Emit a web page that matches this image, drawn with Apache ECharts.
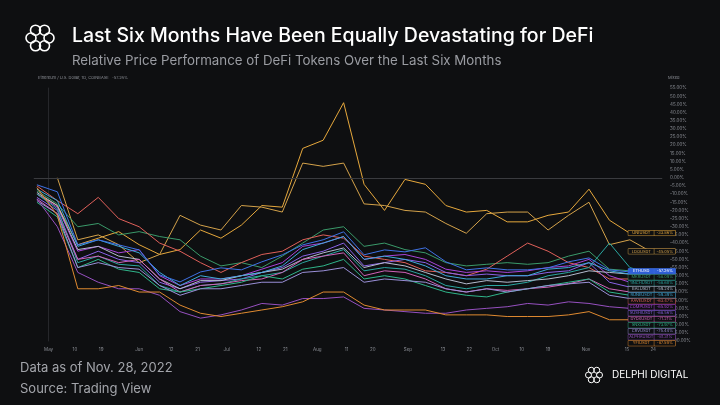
<!DOCTYPE html>
<html><head><meta charset="utf-8">
<script src="https://cdn.jsdelivr.net/npm/echarts@6/dist/echarts.min.js"></script>
<style>html,body{margin:0;padding:0;background:#0e0f11;}#c{width:720px;height:405px;}</style>
</head><body><div id="c"></div>
<script>
const days = [-4,3,10,17,24,31,38,45,52,59,66,73,80,87,94,101,108,115,122,129,136,143,150,157,164,171,178,185,192,199,206];
const tickDays = [0,9,18,31,42,51,61,72,81,92,102,111,123,135,144,153,162,171,184,198,207];
const tickLabels = ['May','10','19','Jun','12','21','Jul','12','21','Aug','11','20','Sep','13','22','Oct','10','19','Nov','15','24'];
const names = ['UNIUSDT','LDOUSDT','ETHUSD','MKRUSDT','AAVEUSDT','COMPUSDT','SUSHIUSDT','1INCHUSDT','BALUSDT','RUNEUSDT','DYDXUSDT','SNXUSDT','CRVUSDT','ALPHAUSDT','YFIUSDT'];
const colors = ['#e6a83c','#d4a24a','#3f72e6','#3a9a6a','#e0605a','#a844d8','#8a62e6','#2aa6a0','#b4bccf','#3fa9d9','#d063b8','#2fb58a','#9a8fd8','#9650c0','#e08a30'];
const uni  = [-10,-17,-41,-37,-33,-41,-47,-44,-32,-37,-29,-17,-18,18,23,46,-4,-20,-1,-4,-17,-21,-20,-27,-27,-23,-21,-7,-26,-34,-33.86];
const ldo  = [null,0,-38,-35,-41,-52,-47,-23,-29,-32,-17,-18,-21,9,7,9,-16,-17,-20,-21,-28,-34,-22,-21,-21,-32,-23,-15,-41,-38,-45.05];
const eth  = [-4.3,-8.6,-41.1,-38,-41.1,-44.2,-59.5,-63.8,-57.7,-55.2,-56.4,-51.5,-47.2,-41.1,-38,-33.1,-47.2,-44.2,-45.4,-42.9,-51.5,-56.4,-55.2,-56.4,-56.4,-55.2,-51.5,-49.1,-56.4,-57.7,-57.26];
const mkr  = [-8,-16,-30,-28,-35,-33,-36,-38,-48,-54,-52,-55,-48,-40,-32,-30,-42,-40,-44,-46,-52,-54,-53,-52,-53,-52,-48,-45,-56,-57,-58.09];
const aave = [-5,-14,-22,-12,-25,-30,-40,-45,-52,-58,-52,-47,-45,-38,-35,-37,-48,-50,-52,-57,-58,-60,-56,-48,-40,-45,-52,-55,-62,-62,-63.47];
const comp = [-10,-18,-45,-42,-46,-44,-60,-66,-62,-62,-60,-56,-52,-42,-40,-36,-50,-48,-47,-50,-56,-58,-57,-58,-57,-55,-54,-50,-60,-64,-65.92];
const sushi= [-12,-20,-50,-45,-50,-52,-64,-68,-64,-63,-62,-58,-55,-48,-45,-40,-54,-52,-50,-52,-58,-60,-59,-60,-60,-58,-57,-52,-64,-67,-68.56];
const inch = [-10,-19,-52,-48,-53,-54,-66,-70,-66,-65,-62,-60,-58,-52,-48,-44,-57,-55,-56,-60,-66,-68,-66,-66,-64,-60,-58,-55,-40,-55,-58.60];
const bal  = [-9,-17,-44,-42,-48,-50,-62,-68,-63,-63,-60,-58,-56,-50,-46,-43,-55,-52,-54,-58,-62,-65,-63,-64,-63,-62,-60,-57,-58,-59,-59.24];
const rune = [-7,-14,-42,-38,-42,-46,-58,-66,-60,-62,-60,-58,-54,-44,-40,-36,-50,-48,-50,-54,-60,-62,-62,-60,-60,-56,-55,-52,-57,-59,-59.39];
const dydx = [-13,-22,-50,-48,-52,-50,-62,-70,-66,-65,-63,-62,-58,-50,-48,-46,-60,-57,-58,-62,-68,-70,-68,-69,-68,-67,-65,-62,-68,-70,-71.21];
const snx  = [-15,-24,-55,-50,-56,-58,-68,-70,-68,-66,-64,-60,-62,-56,-54,-50,-62,-60,-62,-66,-70,-72,-73,-70,-68,-66,-64,-62,-70,-72,-73.97];
const crv  = [-14,-22,-55,-52,-55,-56,-66,-72,-68,-68,-66,-64,-64,-58,-57,-55,-64,-62,-63,-64,-68,-70,-68,-70,-68,-66,-65,-64,-72,-74,-75.44];
const alpha= [-13,-30,-58,-64,-68,-68,-72,-82,-86,-84,-81,-77,-78,-74,-74,-73,-80,-81,-82,-83,-83,-81,-80,-79,-77,-78,-76,-77,-79,-80,-81.31];
const yfi  = [-6,-23,-68,-68,-66,-70,-70,-78,-83,-85,-83,-81,-79,-76,-70,-70,-78,-81,-81,-81,-84,-84,-84,-85,-85,-85,-84,-82,-87,-87,-87.59];
const allData = [uni,ldo,eth,mkr,aave,comp,sushi,inch,bal,rune,dydx,snx,crv,alpha,yfi];

const chart = echarts.init(document.getElementById('c'));
const F = 'Inter, "Noto Sans", sans-serif';
const series = allData.map((arr,i)=>({
  type:'line', name:names[i], data:arr.map((v,j)=>[days[j],v]),
  showSymbol:false, symbol:'none', connectNulls:false,
  lineStyle:{width:1, color:colors[i]}, itemStyle:{color:colors[i]},
  z: i===2?5:2,
  endLabel:{show:true, offset:[-30,0], fontFamily:F, fontSize:4,
    formatter:p=>'{n|'+names[i]+'}{v|'+p.value[1].toFixed(2)+'%}',
    rich:{
      n:{color: i===2?'#fff':colors[i], backgroundColor: i===2?'#2f5fd6':'#0e0f11', borderColor:colors[i], borderWidth:0.5, padding:[0.5,2], fontSize:4, lineHeight:5, width:22, align:'center'},
      v:{color: i===2?'#fff':colors[i], backgroundColor: i===2?'#2f5fd6':'#0e0f11', borderColor:colors[i], borderWidth:0.5, padding:[0.5,2], fontSize:4, lineHeight:5, width:17, align:'center'}
    }},
  labelLayout:{moveOverlap:'shiftY'}
}));
series[0].markLine = {silent:true, symbol:'none', label:{show:false}, lineStyle:{color:'#3a3b3f', type:'solid', width:1}, data:[{yAxis:0}]};

chart.setOption({
  backgroundColor:'#0e0f11',
  animation:false,
  grid:{left:34, right:58, top:88, bottom:64},
  xAxis:{type:'value', min:-5, max:210,
    axisLine:{show:true, lineStyle:{color:'#26272b'}}, axisTick:{show:false}, splitLine:{show:false},
    axisLabel:{customValues:tickDays, color:'#8a8d94', fontSize:4.5, fontFamily:F, margin:6,
      formatter:v=>tickLabels[tickDays.indexOf(v)] || ''}},
  yAxis:{type:'value', position:'right', min:-100, max:55, interval:5,
    axisLine:{show:true, lineStyle:{color:'#26272b'}}, axisTick:{show:false}, splitLine:{show:false},
    axisLabel:{color:'#8a8d94', fontSize:4.5, fontFamily:F, margin:8, formatter:v=>v.toFixed(2)+'%'}},
  graphic:[
    ...[0,1,2,3,4,5].map(k=>({type:'circle', shape:{cx:40+9*Math.cos(k*Math.PI/3), cy:38+9*Math.sin(k*Math.PI/3), r:5}, style:{fill:'none', stroke:'#fff', lineWidth:1.6}})),
    {type:'text', left:72, top:26, style:{text:'Last Six Months Have Been Equally Devastating for DeFi', fill:'#ffffff', font:'500 19.5px '+F}},
    {type:'text', left:72, top:54, style:{text:'Relative Price Performance of DeFi Tokens Over the Last Six Months', fill:'#9a9ca2', font:'13.3px '+F}},
    {type:'text', left:38, top:76, style:{text:'Ethereum / U.S. Dollar, 1D, COINBASE   -57.26%', fill:'#8a8d94', font:'4px '+F}},
    {type:'text', left:668, top:76, style:{text:'Mixed', fill:'#8a8d94', font:'4px '+F}},
    {type:'text', left:20, top:362, style:{text:'Data as of Nov. 28, 2022', fill:'#a3a5ab', font:'13px '+F}},
    {type:'text', left:20, top:383, style:{text:'Source: Trading View', fill:'#a3a5ab', font:'13px '+F}},
    ...[0,1,2,3,4,5].map(k=>({type:'circle', shape:{cx:594+5.5*Math.cos(k*Math.PI/3), cy:375+5.5*Math.sin(k*Math.PI/3), r:3}, style:{fill:'none', stroke:'#fff', lineWidth:1}})),
    {type:'text', left:612, top:370, style:{text:'DELPHI DIGITAL', fill:'#ffffff', font:'10px '+F, letterSpacing:1}}
  ],
  series
});
</script></body></html>
